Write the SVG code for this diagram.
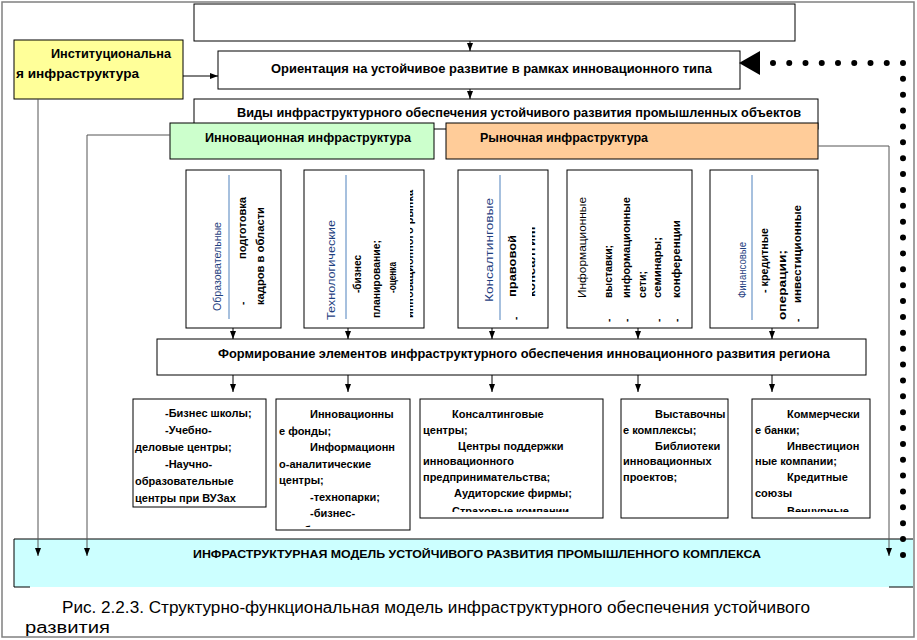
<svg xmlns="http://www.w3.org/2000/svg" width="917" height="640" viewBox="0 0 917 640">
<defs>
<marker id="ah" markerWidth="8" markerHeight="6" refX="8" refY="3" orient="auto" markerUnits="userSpaceOnUse"><path d="M0,0 L8,3 L0,6 Z" fill="#000"/></marker>
<clipPath id="c1"><rect x="410" y="170" width="14" height="158"/></clipPath>
<clipPath id="c2"><rect x="532" y="170" width="14" height="158"/></clipPath>
<clipPath id="c3"><rect x="277" y="399" width="133" height="128"/></clipPath>
<clipPath id="c4"><rect x="421" y="399" width="181" height="113"/></clipPath>
<clipPath id="c5"><rect x="752" y="399" width="118" height="113"/></clipPath>
</defs>
<style>
.box{fill:#fff;stroke:#000;stroke-width:1}
.t{font-family:"Liberation Sans",Arial,sans-serif;font-size:11px;font-weight:bold;fill:#000}
.h{font-family:"Liberation Sans",Arial,sans-serif;font-size:12px;font-weight:bold;fill:#000}
.v{font-family:"Liberation Sans",Arial,sans-serif;font-size:10px;font-weight:bold;fill:#000}
.vn{font-family:"Liberation Sans",Arial,sans-serif;font-size:10px;fill:#000}
.vb{font-family:"Liberation Sans",Arial,sans-serif;font-size:10px;fill:#1F3F7F}
.bl{stroke:#4F81BD;stroke-width:1}
.ln{stroke:#555;stroke-width:1;fill:none}
.sa{stroke:#000;stroke-width:1;fill:none;marker-end:url(#ah)}
.la{stroke:#555;stroke-width:1;fill:none;marker-end:url(#ah)}
.dot{stroke:#000;stroke-width:6;stroke-linecap:round;fill:none}
.cap{font-family:"Liberation Sans",Arial,sans-serif;font-size:16px;fill:#000}
</style>
<rect x="2" y="2" width="912" height="635" fill="#fff" stroke="#808080" stroke-width="1.5"/>

<g id="bottom-bar">
<rect x="14" y="539" width="899" height="48" fill="#CCFFFF"/>
<path d="M14,587 L14,539 L913,539" stroke="#000" fill="none"/>
<path d="M14,587 L30,587 M889,587 L913,587" stroke="#000" fill="none"/>
<text class="t" x="193" y="558" font-weight="normal" textLength="568" lengthAdjust="spacingAndGlyphs">ИНФРАСТРУКТУРНАЯ МОДЕЛЬ УСТОЙЧИВОГО РАЗВИТИЯ ПРОМЫШЛЕННОГО КОМПЛЕКСА</text>
</g>

<g id="top-box"><rect class="box" x="194" y="4" width="601" height="37"/></g>

<g id="institutional">
<rect x="14" y="40" width="169" height="59" fill="#FFFF99" stroke="#000"/>
<text class="h" x="51" y="58" textLength="120" lengthAdjust="spacingAndGlyphs">Институциональна</text>
<text class="h" x="16" y="78" textLength="123" lengthAdjust="spacingAndGlyphs">я инфраструктура</text>
</g>

<g id="orientation">
<rect class="box" x="218" y="51" width="522" height="38"/>
<text class="h" x="271" y="73" textLength="441" lengthAdjust="spacingAndGlyphs">Ориентация на  устойчивое  развитие в рамках инновационного типа</text>
</g>

<g id="types">
<rect class="box" x="194" y="99" width="624" height="30"/>
<text class="h" x="237" y="117" textLength="564" lengthAdjust="spacingAndGlyphs">Виды   инфраструктурного обеспечения устойчивого развития промышленных объектов</text>
</g>

<g id="innovation-infra">
<rect x="170" y="123" width="264" height="36" fill="#CCFFCC" stroke="#000"/>
<text class="h" x="205" y="142" textLength="206" lengthAdjust="spacingAndGlyphs">Инновационная инфраструктура</text>
</g>

<g id="market-infra">
<rect x="446" y="123" width="372" height="36" fill="#FFCC99" stroke="#000"/>
<text class="h" x="480" y="142" textLength="168" lengthAdjust="spacingAndGlyphs">Рыночная инфраструктура</text>
</g>

<g id="v-education">
<rect class="box" x="186" y="170" width="95" height="158"/>
<line class="bl" x1="229" y1="175" x2="229" y2="319"/>
<text class="vb" transform="translate(221,311) rotate(-90)" textLength="89" lengthAdjust="spacingAndGlyphs">Образовательные</text>
<text class="v" transform="translate(246,305) rotate(-90)">-</text>
<text class="v" transform="translate(246,259) rotate(-90)" textLength="62" lengthAdjust="spacingAndGlyphs">подготовка</text>
<text class="v" transform="translate(264,305) rotate(-90)" textLength="98" lengthAdjust="spacingAndGlyphs">кадров в области</text>
</g>

<g id="v-technology">
<rect class="box" x="304" y="170" width="120" height="158"/>
<line class="bl" x1="346" y1="175" x2="346" y2="319"/>
<text class="vb" transform="translate(335,320) rotate(-90)" textLength="100" lengthAdjust="spacingAndGlyphs">Технологические</text>
<text class="v" transform="translate(361,293) rotate(-90)" textLength="38" lengthAdjust="spacingAndGlyphs">-бизнес</text>
<text class="v" transform="translate(380,318) rotate(-90)" textLength="78" lengthAdjust="spacingAndGlyphs">планирование;</text>
<text class="v" transform="translate(396,293) rotate(-90)" textLength="31" lengthAdjust="spacingAndGlyphs">-оценка</text>
<g clip-path="url(#c1)"><text class="v" transform="translate(413,318) rotate(-90)" textLength="128" lengthAdjust="spacingAndGlyphs">инновационного рынка</text></g>
</g>

<g id="v-consulting">
<rect class="box" x="458" y="170" width="90" height="158"/>
<line class="bl" x1="500" y1="175" x2="500" y2="320"/>
<text class="vb" transform="translate(493,302) rotate(-90)" textLength="104" lengthAdjust="spacingAndGlyphs">Консалтинговые</text>
<text class="v" transform="translate(519,320) rotate(-90)">-</text>
<text class="v" transform="translate(516,297) rotate(-90)" textLength="62" lengthAdjust="spacingAndGlyphs">правовой</text>
<g clip-path="url(#c2)"><text class="v" transform="translate(535,297) rotate(-90)" textLength="72" lengthAdjust="spacingAndGlyphs">консалтинг</text></g>
</g>

<g id="v-information">
<rect class="box" x="567" y="170" width="125" height="158"/>
<text class="vn" transform="translate(586,298) rotate(-90)" textLength="101" lengthAdjust="spacingAndGlyphs">Информационные</text>
<text class="v" transform="translate(612,322) rotate(-90)">-</text>
<text class="v" transform="translate(612,298) rotate(-90)" textLength="53" lengthAdjust="spacingAndGlyphs">выставки;</text>
<text class="v" transform="translate(630,322) rotate(-90)">-</text>
<text class="v" transform="translate(630,298) rotate(-90)" textLength="101" lengthAdjust="spacingAndGlyphs">информационные</text>
<text class="v" transform="translate(646,298) rotate(-90)" textLength="27" lengthAdjust="spacingAndGlyphs">сети;</text>
<text class="v" transform="translate(662,322) rotate(-90)">-</text>
<text class="v" transform="translate(661,298) rotate(-90)" textLength="61" lengthAdjust="spacingAndGlyphs">семинары;</text>
<text class="v" transform="translate(680,322) rotate(-90)">-</text>
<text class="v" transform="translate(680,298) rotate(-90)" textLength="78" lengthAdjust="spacingAndGlyphs">конференции</text>
</g>

<g id="v-finance">
<rect class="box" x="710" y="170" width="108" height="158"/>
<line class="bl" x1="752" y1="175" x2="752" y2="320"/>
<text class="vb" transform="translate(746,298) rotate(-90)" textLength="56" lengthAdjust="spacingAndGlyphs">Финансовые</text>
<text class="v" transform="translate(768,293) rotate(-90)" textLength="65" lengthAdjust="spacingAndGlyphs">- кредитные</text>
<text class="v" transform="translate(786,320) rotate(-90)" textLength="70" lengthAdjust="spacingAndGlyphs">операции;</text>
<text class="v" transform="translate(801,322) rotate(-90)">-</text>
<text class="v" transform="translate(801,303) rotate(-90)" textLength="98" lengthAdjust="spacingAndGlyphs">инвестиционные</text>
</g>

<g id="forming">
<rect class="box" x="157" y="339" width="709" height="36"/>
<text class="h" x="218" y="358" textLength="612" lengthAdjust="spacingAndGlyphs">Формирование элементов инфраструктурного обеспечения инновационного развития региона</text>
</g>

<g id="b-education">
<rect class="box" x="133" y="399" width="133" height="108"/>
<text class="t" x="165" y="417">-Бизнес школы;</text>
<text class="t" x="165" y="434">-Учебно-</text>
<text class="t" x="135" y="451">деловые  центры;</text>
<text class="t" x="165" y="468">-Научно-</text>
<text class="t" x="135" y="485">образовательные</text>
<text class="t" x="135" y="502">центры при ВУЗах</text>
</g>

<g id="b-technology">
<rect class="box" x="276" y="399" width="134" height="131"/>
<g clip-path="url(#c3)">
<text class="t" x="310" y="418">Инновационны</text>
<text class="t" x="279" y="434.5">е фонды;</text>
<text class="t" x="310" y="451">Информационн</text>
<text class="t" x="279" y="467.5">о-аналитические</text>
<text class="t" x="279" y="484">центры;</text>
<text class="t" x="310" y="500.5">-технопарки;</text>
<text class="t" x="310" y="517">-бизнес-</text>
<text class="t" x="279" y="533.5">инкубаторы;</text>
</g>
</g>

<g id="b-consulting">
<rect class="box" x="420" y="399" width="183" height="119"/>
<g clip-path="url(#c4)">
<text class="t" x="452" y="418">Консалтинговые</text>
<text class="t" x="423" y="433.8">центры;</text>
<text class="t" x="458" y="449.6">Центры поддержки</text>
<text class="t" x="423" y="465.4">инновационного</text>
<text class="t" x="423" y="481.2">предпринимательства;</text>
<text class="t" x="454" y="497">Аудиторские  фирмы;</text>
<text class="t" x="452" y="514.5">Страховые компании</text>
</g>
</g>

<g id="b-information">
<rect class="box" x="621" y="399" width="107" height="119"/>
<text class="t" x="655" y="418">Выставочны</text>
<text class="t" x="623" y="433.8">е комплексы;</text>
<text class="t" x="655" y="449.6">Библиотеки</text>
<text class="t" x="623" y="465.4">инновационных</text>
<text class="t" x="623" y="481.2">проектов;</text>
</g>

<g id="b-finance">
<rect class="box" x="752" y="399" width="118" height="119"/>
<g clip-path="url(#c5)">
<text class="t" x="787" y="418">Коммерчески</text>
<text class="t" x="755" y="433.8">е банки;</text>
<text class="t" x="787" y="449.6">Инвестицион</text>
<text class="t" x="755" y="465.4">ные компании;</text>
<text class="t" x="787" y="481.2">Кредитные</text>
<text class="t" x="755" y="497">союзы</text>
<text class="t" x="787" y="514.5">Венчурные</text>
</g>
</g>

<g id="connectors">
<line class="sa" x1="470" y1="41" x2="470" y2="51"/>
<line class="sa" x1="183" y1="76" x2="218" y2="76"/>
<line class="sa" x1="470" y1="89" x2="470" y2="99"/>
<line class="sa" x1="233" y1="328" x2="233" y2="339"/>
<line class="sa" x1="348" y1="328" x2="348" y2="339"/>
<line class="sa" x1="492" y1="328" x2="492" y2="339"/>
<line class="sa" x1="638" y1="328" x2="638" y2="339"/>
<line class="sa" x1="772" y1="328" x2="772" y2="339"/>
<line class="sa" x1="233" y1="375" x2="233" y2="392"/>
<line class="sa" x1="348" y1="375" x2="348" y2="392"/>
<line class="sa" x1="492" y1="375" x2="492" y2="392"/>
<line class="sa" x1="638" y1="375" x2="638" y2="392"/>
<line class="sa" x1="772" y1="375" x2="772" y2="392"/>
<path class="la" d="M38,99 L38,556"/>
<path class="la" d="M170,135 L87,135 L87,556"/>
<path class="la" d="M818,146 L889,146 L889,556"/>
<line class="dot" x1="773" y1="63" x2="903" y2="63" stroke-dasharray="0 16.25"/>
<line class="dot" x1="903" y1="63" x2="903" y2="555" stroke-dasharray="0 15.87"/>
<path d="M739,63 L760,51 L760,75 Z" fill="#000"/>
</g>

<g id="caption">
<text class="cap" x="62" y="613" textLength="748" lengthAdjust="spacingAndGlyphs">Рис. 2.2.3. Структурно-функциональная модель инфраструктурного обеспечения устойчивого</text>
<text class="cap" x="25" y="633" textLength="85" lengthAdjust="spacingAndGlyphs">развития</text>
</g>
</svg>
